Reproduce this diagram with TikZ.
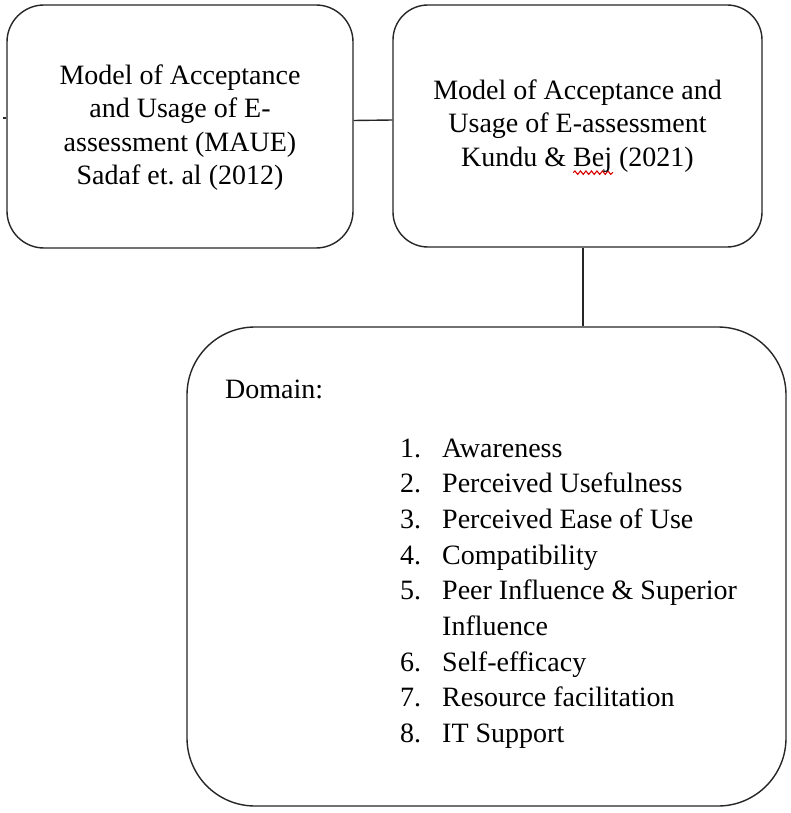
\documentclass[tikz,border=0pt]{standalone}
\usepackage{fontspec}
\setmainfont{Liberation Serif}
\usetikzlibrary{decorations.pathmorphing}
\frenchspacing
\newcommand\wavyred[1]{\rlap{\tikz[overlay,baseline=0pt]\draw[red!85!black,line width=1.1pt,decorate,decoration={snake,amplitude=1.7pt,segment length=5.5pt}] (0pt,-6.5pt) -- (40pt,-6.5pt);}#1}
\begin{document}
\begin{tikzpicture}[x=1pt,y=-1pt,
  box/.style={draw=black!85,line width=1.4pt,fill=white,inner sep=0pt},
  conn/.style={draw=black!85,line width=1.4pt},
  boxtext/.style={font=\fontsize{28pt}{33.3pt}\selectfont,align=center,text=black}]
\useasboundingbox[fill=white] (0,0) rectangle (791,813);
% boxes
\node[box,rounded corners=37pt,minimum width=346pt,minimum height=243pt] (b1) at (180,126.5) {};
\node[box,rounded corners=35pt,minimum width=369pt,minimum height=242pt] (b2) at (577.5,126) {};
\node[box,rounded corners=68pt,minimum width=599pt,minimum height=479pt] (b3) at (486.5,566.5) {};
% box texts
\node[boxtext] (t1) at ([yshift=-1pt]b1.center) {Model of Acceptance\\and Usage of E-\\assessment (MAUE)\\Sadaf et. al (2012)};
\node[boxtext] (t2) at (b2.center) {Model of Acceptance and\\Usage of E-assessment\\Kundu \& \wavyred{Bej} (2021)};
\node[font=\fontsize{28pt}{33.3pt}\selectfont,anchor=base west,inner sep=0pt,text=black] (dom) at (225,398) {Domain:};
\node[font=\fontsize{28pt}{35.7pt}\selectfont,anchor=base west,inner sep=0pt,text=black] (list) at (400,457) {%
\begin{tabular}[t]{@{}p{42pt}@{}l@{}}
1. & Awareness\\
2. & Perceived Usefulness\\
3. & Perceived Ease of Use\\
4. & Compatibility\\
5. & Peer Influence \& Superior\\
   & Influence\\
6. & Self-efficacy\\
7. & Resource facilitation\\
8. & IT Support
\end{tabular}};
% connectors
\draw[conn] ([yshift=6pt]b1.east) -- ([yshift=6pt]b2.west);
\coordinate (v) at (583,0);
\draw[conn] (b2.south -| v) -- (b3.north -| v);
\coordinate (tick) at (3,118);
\draw[conn] (tick) -- (b1.west |- tick);
\end{tikzpicture}
\end{document}
